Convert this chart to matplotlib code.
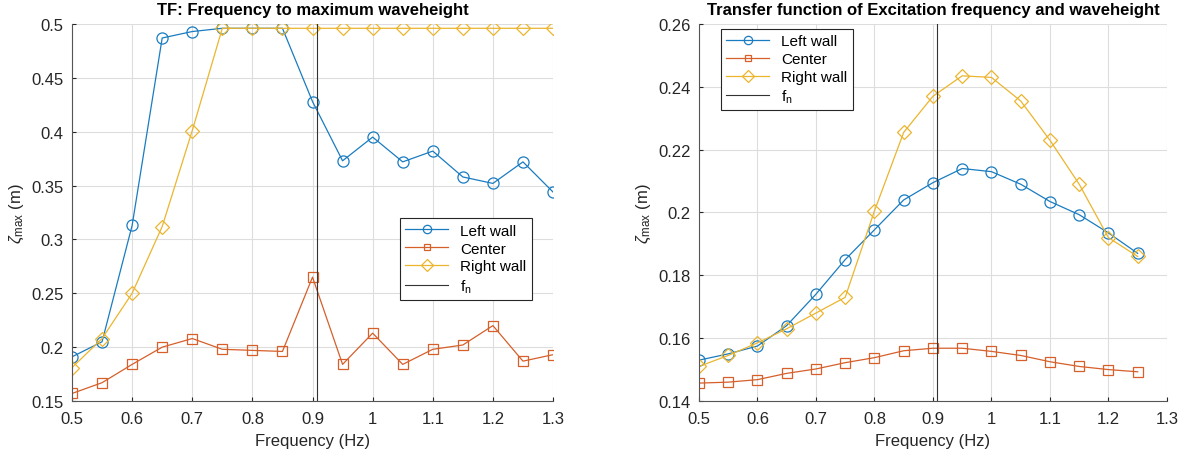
import matplotlib
matplotlib.use("Agg")
import matplotlib.pyplot as plt

plt.rcParams['font.family'] = ['Liberation Sans', 'DejaVu Sans']
plt.rcParams['mathtext.fontset'] = 'custom'
plt.rcParams['mathtext.rm'] = 'Liberation Sans'
plt.rcParams['mathtext.it'] = 'Liberation Sans:italic'

# left panel data
freq_a = [0.5, 0.55, 0.6, 0.65, 0.7, 0.75, 0.8, 0.85, 0.9, 0.95, 1.0, 1.05, 1.1, 1.15, 1.2, 1.25, 1.3]
left_a = [0.191, 0.205, 0.313, 0.487, 0.493, 0.496, 0.496, 0.496, 0.428, 0.373, 0.395, 0.372, 0.382, 0.358, 0.352, 0.372, 0.344]
center_a = [0.157, 0.167, 0.184, 0.200, 0.208, 0.198, 0.197, 0.196, 0.265, 0.184, 0.213, 0.184, 0.198, 0.202, 0.220, 0.187, 0.193]
right_a = [0.181, 0.208, 0.250, 0.312, 0.401, 0.496, 0.496, 0.496, 0.496, 0.496, 0.496, 0.496, 0.496, 0.496, 0.496, 0.496, 0.496]

# right panel data
freq_b = [0.5, 0.55, 0.6, 0.65, 0.7, 0.75, 0.8, 0.85, 0.9, 0.95, 1.0, 1.05, 1.1, 1.15, 1.2, 1.25]
left_b = [0.153, 0.155, 0.1575, 0.164, 0.174, 0.185, 0.1945, 0.204, 0.2095, 0.214, 0.213, 0.209, 0.2035, 0.1993, 0.1935, 0.187]
center_b = [0.1457, 0.146, 0.1468, 0.1488, 0.1502, 0.1522, 0.1538, 0.156, 0.1568, 0.1568, 0.1558, 0.1545, 0.1525, 0.151, 0.15, 0.1493]
right_b = [0.151, 0.1545, 0.1585, 0.163, 0.168, 0.173, 0.2005, 0.2255, 0.237, 0.2435, 0.243, 0.2355, 0.223, 0.209, 0.192, 0.186]

f_n = 0.907
labels = ["Left wall", "Center", "Right wall"]
colors = ["#1a7cc0", "#d65f2a", "#ebb52e"]
markers = ["o", "s", "D"]
msizes = [8, 6.5, 7.5]

fig = plt.figure(figsize=(11.96, 4.56), dpi=100)
ax1 = fig.add_axes([0.0602, 0.1184, 0.4022, 0.8268])
ax2 = fig.add_axes([0.5844, 0.1184, 0.3913, 0.8268])


def draw(ax, x, series, title, ylim, yticks, leg_kw):
    for y, lab, c, m, ms in zip(series, labels, colors, markers, msizes):
        ax.plot(x, y, color=c, marker=m, markersize=ms, markerfacecolor="none",
                markeredgewidth=0.9, linewidth=0.9, label=lab)
    ax.axvline(f_n, color="#333333", linewidth=0.8, label=r"f$_{\rm n}$")
    ax.set_xlim(0.5, 1.3)
    ax.set_ylim(*ylim)
    ax.set_xticks([0.5, 0.6, 0.7, 0.8, 0.9, 1.0, 1.1, 1.2, 1.3])
    ax.set_xticklabels(["0.5", "0.6", "0.7", "0.8", "0.9", "1", "1.1", "1.2", "1.3"])
    ax.set_yticks(yticks)
    ax.set_yticklabels([("%g" % t) for t in yticks])
    ax.grid(True, color="#dddddd", linewidth=0.8)
    ax.set_axisbelow(True)
    for s in ["top", "right"]:
        ax.spines[s].set_visible(False)
    for s in ["left", "bottom"]:
        ax.spines[s].set_color("#555555")
    ax.tick_params(labelsize=12, colors="#262626", direction="in", length=3)
    ax.tick_params(axis="x", pad=7)
    ax.tick_params(axis="y", pad=6)
    ax.set_xlabel("Frequency (Hz)", fontsize=12, color="#262626", labelpad=5)
    ax.set_ylabel(r"$\zeta_{\rm max}$ (m)", fontsize=12, color="#262626")
    ax.set_title(title, fontsize=12, fontweight="bold", pad=7)
    leg = ax.legend(fontsize=11, fancybox=False, edgecolor="#262626",
                    handlelength=2.8, borderpad=0.35, labelspacing=0.25,
                    markerscale=0.75, borderaxespad=0, framealpha=1, **leg_kw)
    leg.get_frame().set_linewidth(0.8)


draw(ax1, freq_a, [left_a, center_a, right_a], "TF: Frequency to maximum waveheight",
     (0.15, 0.5), [0.15, 0.2, 0.25, 0.3, 0.35, 0.4, 0.45, 0.5],
     dict(loc="lower right", bbox_to_anchor=(0.956, 0.268)))
draw(ax2, freq_b, [left_b, center_b, right_b], "Transfer function of Excitation frequency and waveheight",
     (0.14, 0.26), [0.14, 0.16, 0.18, 0.2, 0.22, 0.24, 0.26],
     dict(loc="upper left", bbox_to_anchor=(0.047, 0.987)))

fig.savefig("out.png", dpi=100)
